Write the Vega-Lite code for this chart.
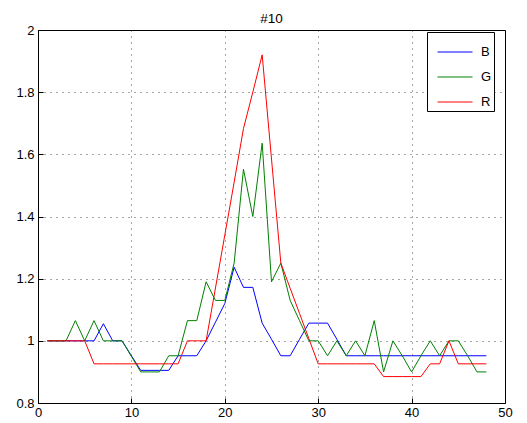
{
  "$schema": "https://vega.github.io/schema/vega-lite/v6.json",
  "width": 467,
  "height": 373,
  "autosize": "none",
  "padding": {"left": 38, "top": 30, "right": 22, "bottom": 20},
  "background": "white",
  "title": {"text": "#10", "fontSize": 13.5, "fontWeight": "normal", "font": "Liberation Sans", "offset": -1, "color": "#000"},
  "data": {"values": [
    {"x":1,"c":"B","v":1},{"x":2,"c":"B","v":1},{"x":3,"c":"B","v":1},{"x":4,"c":"B","v":1},{"x":5,"c":"B","v":1},{"x":6,"c":"B","v":1},{"x":7,"c":"B","v":1.055},{"x":8,"c":"B","v":1},{"x":9,"c":"B","v":1},{"x":10,"c":"B","v":0.952},
    {"x":11,"c":"B","v":0.905},{"x":12,"c":"B","v":0.905},{"x":13,"c":"B","v":0.905},{"x":14,"c":"B","v":0.905},{"x":15,"c":"B","v":0.952},{"x":16,"c":"B","v":0.952},{"x":17,"c":"B","v":0.952},{"x":18,"c":"B","v":1},{"x":19,"c":"B","v":1.06},{"x":20,"c":"B","v":1.12},
    {"x":21,"c":"B","v":1.237},{"x":22,"c":"B","v":1.172},{"x":23,"c":"B","v":1.172},{"x":24,"c":"B","v":1.057},{"x":25,"c":"B","v":1.005},{"x":26,"c":"B","v":0.952},{"x":27,"c":"B","v":0.952},{"x":28,"c":"B","v":1.005},{"x":29,"c":"B","v":1.057},{"x":30,"c":"B","v":1.057},
    {"x":31,"c":"B","v":1.057},{"x":32,"c":"B","v":1.005},{"x":33,"c":"B","v":0.952},{"x":34,"c":"B","v":0.952},{"x":35,"c":"B","v":0.952},{"x":36,"c":"B","v":0.952},{"x":37,"c":"B","v":0.952},{"x":38,"c":"B","v":0.952},{"x":39,"c":"B","v":0.952},{"x":40,"c":"B","v":0.952},
    {"x":41,"c":"B","v":0.952},{"x":42,"c":"B","v":0.952},{"x":43,"c":"B","v":0.952},{"x":44,"c":"B","v":0.952},{"x":45,"c":"B","v":0.952},{"x":46,"c":"B","v":0.952},{"x":47,"c":"B","v":0.952},{"x":48,"c":"B","v":0.952},
    {"x":1,"c":"G","v":1},{"x":2,"c":"G","v":1},{"x":3,"c":"G","v":1},{"x":4,"c":"G","v":1.065},{"x":5,"c":"G","v":1},{"x":6,"c":"G","v":1.065},{"x":7,"c":"G","v":1},{"x":8,"c":"G","v":1},{"x":9,"c":"G","v":1},{"x":10,"c":"G","v":0.95},
    {"x":11,"c":"G","v":0.9},{"x":12,"c":"G","v":0.9},{"x":13,"c":"G","v":0.9},{"x":14,"c":"G","v":0.952},{"x":15,"c":"G","v":0.952},{"x":16,"c":"G","v":1.065},{"x":17,"c":"G","v":1.065},{"x":18,"c":"G","v":1.19},{"x":19,"c":"G","v":1.13},{"x":20,"c":"G","v":1.13},
    {"x":21,"c":"G","v":1.25},{"x":22,"c":"G","v":1.552},{"x":23,"c":"G","v":1.4},{"x":24,"c":"G","v":1.636},{"x":25,"c":"G","v":1.19},{"x":26,"c":"G","v":1.25},{"x":27,"c":"G","v":1.13},{"x":28,"c":"G","v":1.065},{"x":29,"c":"G","v":1},{"x":30,"c":"G","v":1},
    {"x":31,"c":"G","v":0.952},{"x":32,"c":"G","v":1},{"x":33,"c":"G","v":0.952},{"x":34,"c":"G","v":1},{"x":35,"c":"G","v":0.952},{"x":36,"c":"G","v":1.065},{"x":37,"c":"G","v":0.9},{"x":38,"c":"G","v":1},{"x":39,"c":"G","v":0.952},{"x":40,"c":"G","v":0.9},
    {"x":41,"c":"G","v":0.952},{"x":42,"c":"G","v":1},{"x":43,"c":"G","v":0.952},{"x":44,"c":"G","v":1},{"x":45,"c":"G","v":1},{"x":46,"c":"G","v":0.952},{"x":47,"c":"G","v":0.9},{"x":48,"c":"G","v":0.9},
    {"x":1,"c":"R","v":1},{"x":2,"c":"R","v":1},{"x":3,"c":"R","v":1},{"x":4,"c":"R","v":1},{"x":5,"c":"R","v":1},{"x":6,"c":"R","v":0.926},{"x":7,"c":"R","v":0.926},{"x":8,"c":"R","v":0.926},{"x":9,"c":"R","v":0.926},{"x":10,"c":"R","v":0.926},
    {"x":11,"c":"R","v":0.926},{"x":12,"c":"R","v":0.926},{"x":13,"c":"R","v":0.926},{"x":14,"c":"R","v":0.926},{"x":15,"c":"R","v":0.926},{"x":16,"c":"R","v":1},{"x":17,"c":"R","v":1},{"x":18,"c":"R","v":1},{"x":19,"c":"R","v":1.17},{"x":20,"c":"R","v":1.34},
    {"x":21,"c":"R","v":1.51},{"x":22,"c":"R","v":1.683},{"x":23,"c":"R","v":1.8},{"x":24,"c":"R","v":1.92},{"x":25,"c":"R","v":1.585},{"x":26,"c":"R","v":1.25},{"x":27,"c":"R","v":1.169},{"x":28,"c":"R","v":1.088},{"x":29,"c":"R","v":1.007},{"x":30,"c":"R","v":0.926},
    {"x":31,"c":"R","v":0.926},{"x":32,"c":"R","v":0.926},{"x":33,"c":"R","v":0.926},{"x":34,"c":"R","v":0.926},{"x":35,"c":"R","v":0.926},{"x":36,"c":"R","v":0.926},{"x":37,"c":"R","v":0.885},{"x":38,"c":"R","v":0.885},{"x":39,"c":"R","v":0.885},{"x":40,"c":"R","v":0.885},
    {"x":41,"c":"R","v":0.885},{"x":42,"c":"R","v":0.926},{"x":43,"c":"R","v":0.926},{"x":44,"c":"R","v":1},{"x":45,"c":"R","v":0.926},{"x":46,"c":"R","v":0.926},{"x":47,"c":"R","v":0.926},{"x":48,"c":"R","v":0.926}
  ]},
  "mark": {"type": "line", "strokeWidth": 1},
  "encoding": {
    "x": {"field": "x", "type": "quantitative", "scale": {"domain": [0, 50], "nice": false},
      "axis": {"values": [0, 10, 20, 30, 40, 50], "labelPadding": 8}},
    "y": {"field": "v", "type": "quantitative", "scale": {"domain": [0.8, 2], "nice": false, "zero": false},
      "axis": {"values": [0.8, 1, 1.2, 1.4, 1.6, 1.8, 2], "format": "~g", "labelPadding": 9}},
    "color": {"field": "c", "type": "nominal",
      "scale": {"domain": ["B", "G", "R"], "range": ["#0000ff", "#008000", "#ff0000"]},
      "legend": {"orient": "none", "legendX": 389, "legendY": 2, "title": null}}
  },
  "config": {
    "view": {"stroke": "#000", "strokeWidth": 1},
    "axis": {"domain": false, "grid": true, "gridColor": "#000", "gridDash": [1, 5], "gridOpacity": 0.7, "gridWidth": 1,
      "ticks": true, "tickSize": -5, "tickColor": "#000", "labelFont": "Liberation Sans", "labelFontSize": 13, "labelColor": "#000",
      "labelFlush": false, "labelOverlap": false, "title": null},
    "legend": {"strokeColor": "#000", "fillColor": "#fff", "padding": 2, "symbolType": "stroke", "symbolSize": 1225,
      "symbolStrokeWidth": 1, "labelFont": "Liberation Sans", "labelFontSize": 13, "labelColor": "#000", "rowPadding": 0,
      "labelOffset": 8, "symbolOffset": 8}
  }
}
